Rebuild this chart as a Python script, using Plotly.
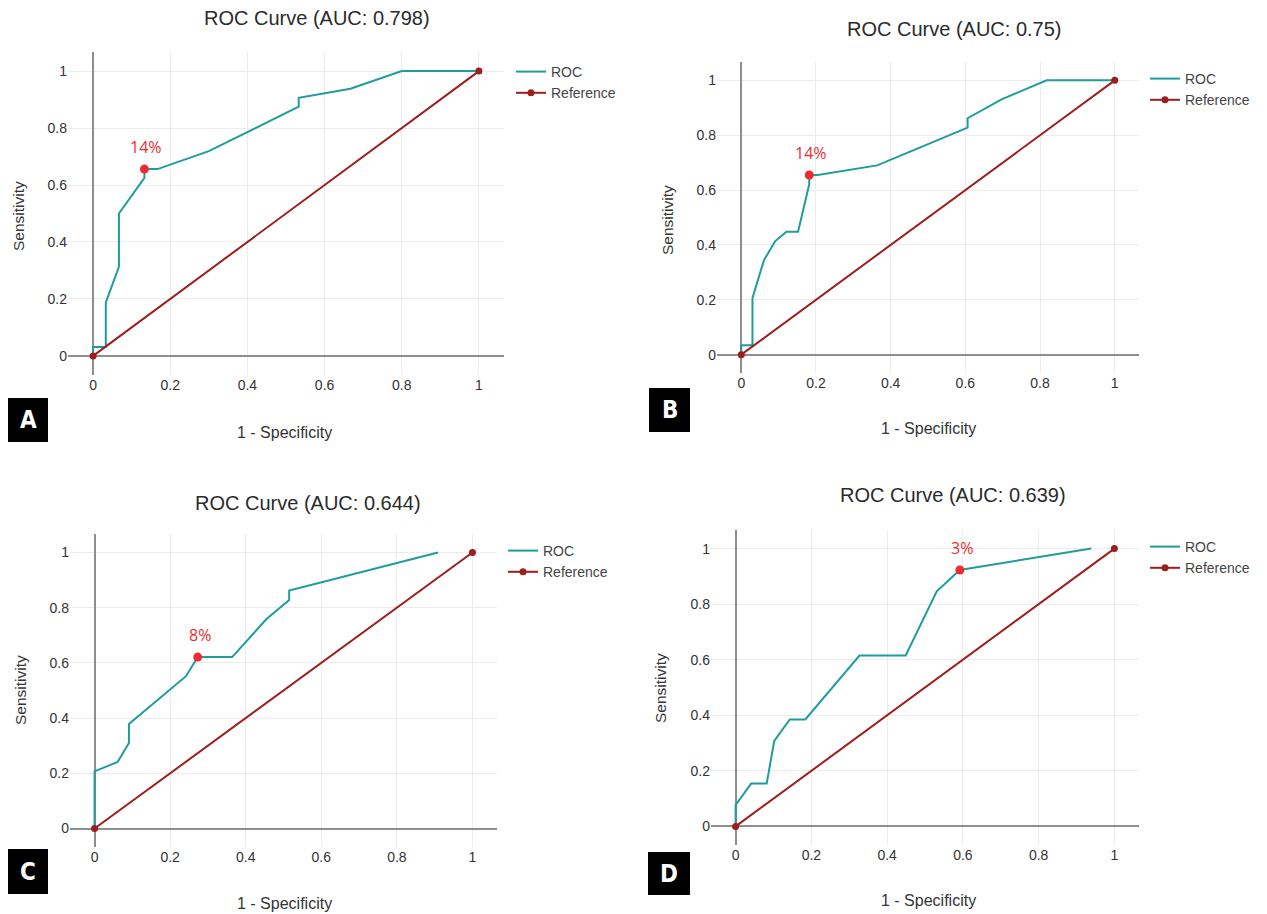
import plotly.graph_objects as go

W, H = 1267, 914

# ---------------- data ----------------
A_fpr = [0, 0, 0.033, 0.033, 0.067, 0.067, 0.133, 0.133, 0.167, 0.300, 0.533, 0.533, 0.667, 0.800, 1.0]
A_tpr = [0, 0.031, 0.031, 0.188, 0.313, 0.500, 0.625, 0.656, 0.656, 0.719, 0.875, 0.906, 0.938, 1.0, 1.0]
A_cut = (0.133, 0.656, "14%")
A_auc = "0.798"

B_fpr = [0, 0, 0.030, 0.030, 0.061, 0.091, 0.121, 0.152, 0.182, 0.182, 0.205, 0.364, 0.606, 0.606, 0.697, 0.818, 1.0]
B_tpr = [0, 0.034, 0.034, 0.207, 0.345, 0.414, 0.448, 0.448, 0.621, 0.655, 0.655, 0.690, 0.828, 0.862, 0.931, 1.0, 1.0]
B_cut = (0.182, 0.655, "14%")
B_auc = "0.75"

C_fpr = [0, 0, 0.061, 0.091, 0.091, 0.242, 0.273, 0.364, 0.455, 0.515, 0.515, 0.909]
C_tpr = [0, 0.207, 0.241, 0.310, 0.379, 0.552, 0.621, 0.621, 0.759, 0.828, 0.862, 1.0]
C_cut = (0.273, 0.621, "8%")
C_auc = "0.644"

D_fpr = [0, 0, 0.041, 0.082, 0.102, 0.143, 0.184, 0.327, 0.449, 0.531, 0.592, 0.939]
D_tpr = [0, 0.077, 0.154, 0.154, 0.308, 0.385, 0.385, 0.615, 0.615, 0.846, 0.923, 1.0]
D_cut = (0.592, 0.923, "3%")
D_auc = "0.639"

ref_x = [0, 1]
ref_y = [0, 1]

tick_vals = [0, 0.2, 0.4, 0.6, 0.8, 1]
tick_text = ["0", "0.2", "0.4", "0.6", "0.8", "1"]

panels = [
    dict(fpr=A_fpr, tpr=A_tpr, cut=A_cut, auc=A_auc, letter="A"),
    dict(fpr=B_fpr, tpr=B_tpr, cut=B_cut, auc=B_auc, letter="B"),
    dict(fpr=C_fpr, tpr=C_tpr, cut=C_cut, auc=C_auc, letter="C"),
    dict(fpr=D_fpr, tpr=D_tpr, cut=D_cut, auc=D_auc, letter="D"),
]

# ---------------- layout geometry (pixels) ----------------
plot_px = [  # left, right, top, bottom
    (68, 504, 52, 375),
    (717, 1139, 62, 373),
    (70, 497, 534, 847),
    (711, 1139, 530, 845),
]
title_px = [(317, 18), (955, 29), (308, 503), (953, 495)]
xtitle_px = [(284, 432), (928, 428), (284, 903), (928, 900)]
ytitle_px = [(18, 216), (667, 220), (20, 690), (660, 688)]
legend_px = [(511, 56), (1145, 63), (503, 535), (1145, 531)]
box_px = [(8, 48, 398, 442), (649, 690, 388, 432), (8, 48, 849, 894), (648, 690, 852, 895)]

TEAL = "#1f9c9c"
DRED = "#9e1d1d"
RED = "#ee2b30"
FONT = "Liberation Sans, Arial, sans-serif"

fig = go.Figure()
layout = dict(
    width=W, height=H,
    margin=dict(l=0, r=0, t=0, b=0),
    paper_bgcolor="white", plot_bgcolor="white",
    font=dict(family=FONT, color="#444"),
    showlegend=True,
)
annotations = []
shapes = []

for i, p in enumerate(panels):
    n = "" if i == 0 else str(i + 1)
    xa, ya = "x" + n, "y" + n
    leg = "legend" + n
    l, r, t, b = plot_px[i]
    layout["xaxis" + n] = dict(
        domain=[l / W, r / W], range=[-0.065, 1.065], anchor=ya,
        tickvals=tick_vals, ticktext=tick_text, showgrid=True, gridcolor="#ececec",
        gridwidth=1, zeroline=True, zerolinecolor="#8e8e8e", zerolinewidth=2,
        showline=False, ticks="", tickfont=dict(size=14, color="#333", family=FONT),
        fixedrange=True,
    )
    layout["yaxis" + n] = dict(
        domain=[1 - b / H, 1 - t / H], range=[-0.067, 1.067], anchor=xa,
        tickvals=tick_vals, ticktext=tick_text, showgrid=True, gridcolor="#ececec",
        gridwidth=1, zeroline=True, zerolinecolor="#8e8e8e", zerolinewidth=2,
        showline=False, ticks="", tickfont=dict(size=14, color="#333", family=FONT),
        fixedrange=True,
    )
    lx, ly = legend_px[i]
    layout[leg] = dict(
        x=lx / W, y=1 - ly / H, xanchor="left", yanchor="top",
        font=dict(size=14, color="#444", family=FONT), bgcolor="rgba(0,0,0,0)",
        tracegroupgap=0,
    )
    fig.add_trace(go.Scatter(
        x=p["fpr"], y=p["tpr"], mode="lines", name="ROC",
        line=dict(color=TEAL, width=2), xaxis=xa, yaxis=ya, legend=leg,
    ))
    fig.add_trace(go.Scatter(
        x=ref_x, y=ref_y, mode="lines+markers", name="Reference",
        line=dict(color=DRED, width=2), marker=dict(color=DRED, size=7),
        xaxis=xa, yaxis=ya, legend=leg,
    ))
    cx, cy, ctext = p["cut"]
    fig.add_trace(go.Scatter(
        x=[cx], y=[cy], mode="markers",
        marker=dict(color=RED, size=9), showlegend=False, xaxis=xa, yaxis=ya,
        cliponaxis=False,
    ))
    annotations.append(dict(
        text=ctext, x=cx, y=cy, xref=xa, yref=ya, showarrow=False,
        xanchor="center", yanchor="middle", yshift=22, xshift=2,
        font=dict(color=RED, size=16, family="Open Sans, Liberation Sans, sans-serif"),
    ))
    # titles
    tx, ty = title_px[i]
    annotations.append(dict(
        text=f"ROC Curve (AUC: {p['auc']})", x=tx / W, y=1 - ty / H, xref="paper", yref="paper",
        showarrow=False, xanchor="center", yanchor="middle",
        font=dict(size=20, color="#2b2b2b", family=FONT),
    ))
    xx, xy = xtitle_px[i]
    annotations.append(dict(
        text="1 - Specificity", x=xx / W, y=1 - xy / H, xref="paper", yref="paper",
        showarrow=False, xanchor="center", yanchor="middle",
        font=dict(size=16, color="#333", family=FONT),
    ))
    yx, yy = ytitle_px[i]
    annotations.append(dict(
        text="Sensitivity", x=yx / W, y=1 - yy / H, xref="paper", yref="paper",
        showarrow=False, xanchor="center", yanchor="middle", textangle=-90,
        font=dict(size=15.5, color="#333", family=FONT),
    ))
    bx0, bx1, by0, by1 = box_px[i]
    shapes.append(dict(
        type="rect", xref="paper", yref="paper", x0=bx0 / W, x1=bx1 / W,
        y0=1 - by1 / H, y1=1 - by0 / H, fillcolor="black", line=dict(width=0),
    ))
    annotations.append(dict(
        text=f"<b>{p['letter']}</b>", x=(bx0 + bx1) / 2 / W, y=1 - (by0 + by1) / 2 / H,
        xref="paper", yref="paper", showarrow=False, xanchor="center", yanchor="middle",
        font=dict(size=24, color="white", family="Liberation Sans Narrow, DejaVu Sans Condensed, Roboto, sans-serif"),
    ))

layout["annotations"] = annotations
layout["shapes"] = shapes
fig.update_layout(**layout)
fig.write_html("out.html")
